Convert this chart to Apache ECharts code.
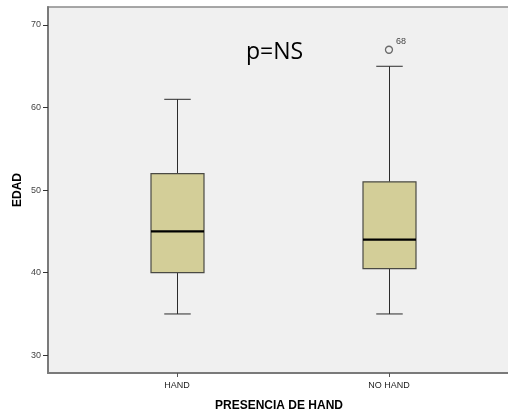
<!DOCTYPE html>
<html>
<head>
<meta charset="utf-8">
<script src="https://cdn.jsdelivr.net/npm/echarts@6/dist/echarts.min.js"></script>
<style>
  html, body { margin: 0; padding: 0; background: #ffffff; }
  #chart { width: 508px; height: 412px; }
</style>
</head>
<body>
<div id="chart"></div>
<script>
// Age (EDAD) by presence of HAND
const categories = ['HAND', 'NO HAND'];
const whiskerLow = [35, 35];
const quartile1 = [40, 40.5];
const medians = [45, 44];
const quartile3 = [52, 51];
const whiskerHigh = [61, 65];
// outliers: category index, value, case label
const outlierCategory = [1];
const outlierValue = [67];
const outlierCase = ['68'];
const yTicks = [30, 40, 50, 60, 70];

const boxData = categories.map((c, i) =>
  [i, whiskerLow[i], quartile1[i], medians[i], quartile3[i], whiskerHigh[i]]);
const outlierData = outlierValue.map((v, i) =>
  ({ value: [outlierCategory[i], v], caseLabel: outlierCase[i] }));

function renderBox(params, api) {
  const x = api.value(0);
  const pMin = api.coord([x, api.value(1)]);
  const pQ1 = api.coord([x, api.value(2)]);
  const pMed = api.coord([x, api.value(3)]);
  const pQ3 = api.coord([x, api.value(4)]);
  const pMax = api.coord([x, api.value(5)]);
  const unit = api.size([1, 0])[0];
  const bw = unit * 0.25;
  const cw = bw * 0.5;
  const cx = Math.round(pMed[0]) + 0.5;
  const lineStyle = { stroke: '#2b2b2b', lineWidth: 1 };
  return {
    type: 'group',
    children: [
      { type: 'line', shape: { x1: cx, y1: pMin[1], x2: cx, y2: pQ1[1] }, style: lineStyle },
      { type: 'line', shape: { x1: cx, y1: pQ3[1], x2: cx, y2: pMax[1] }, style: lineStyle },
      { type: 'line', shape: { x1: cx - cw / 2, y1: pMin[1], x2: cx + cw / 2, y2: pMin[1] }, style: lineStyle },
      { type: 'line', shape: { x1: cx - cw / 2, y1: pMax[1], x2: cx + cw / 2, y2: pMax[1] }, style: lineStyle },
      { type: 'rect', shape: { x: cx - bw / 2, y: pQ3[1], width: bw, height: pQ1[1] - pQ3[1] },
        style: { fill: '#d3ce98', stroke: '#4a4a44', lineWidth: 1.2 } },
      { type: 'line', shape: { x1: cx - bw / 2, y1: pMed[1], x2: cx + bw / 2, y2: pMed[1] },
        style: { stroke: '#000000', lineWidth: 2.2 } }
    ]
  };
}

const chart = echarts.init(document.getElementById('chart'), null, { renderer: 'canvas' });
chart.setOption({
  animation: false,
  backgroundColor: '#ffffff',
  title: {
    text: 'p=NS',
    left: 241,
    top: 36,
    textStyle: { fontFamily: 'Open Sans', fontWeight: 'normal', fontSize: 23, color: '#000000' }
  },
  grid: {
    left: 48, top: 7, right: -2, bottom: 39,
    containLabel: false,
    outerBoundsMode: 'none',
    show: true,
    backgroundColor: '#f0f0f0',
    borderColor: '#8a8a8a',
    borderWidth: 1.5
  },
  xAxis: {
    type: 'value',
    min: -0.6085,
    max: 1.571,
    name: 'PRESENCIA DE HAND',
    nameLocation: 'middle',
    nameGap: 27,
    nameTextStyle: { fontFamily: 'Liberation Sans', fontWeight: 'bold', fontSize: 12, color: '#000000' },
    axisLine: { show: true, onZero: false, lineStyle: { color: '#7a7a7a', width: 2 } },
    axisTick: { show: true, length: 4, customValues: [0, 1], lineStyle: { color: '#555555' } },
    axisLabel: {
      customValues: [0, 1],
      formatter: v => categories[Math.round(v)],
      fontFamily: 'Liberation Sans', fontSize: 9, color: '#222222', margin: 8
    },
    splitLine: { show: false }
  },
  yAxis: {
    type: 'value',
    min: 27.85,
    max: 72.18,
    name: 'EDAD',
    nameLocation: 'middle',
    nameGap: 24,
    nameMoveOverlap: false,
    nameTextStyle: { fontFamily: 'Liberation Sans', fontWeight: 'bold', fontSize: 12, color: '#000000' },
    axisLine: { show: true, onZero: false, lineStyle: { color: '#7a7a7a', width: 2 } },
    axisTick: { show: true, length: 5, customValues: yTicks, lineStyle: { color: '#333333' } },
    axisLabel: {
      customValues: yTicks,
      fontFamily: 'Liberation Sans', fontSize: 9, color: '#444444', margin: 7
    },
    splitLine: { show: false }
  },
  series: [
    {
      type: 'custom',
      renderItem: renderBox,
      encode: { x: 0, y: [1, 2, 3, 4, 5] },
      data: boxData,
      z: 2
    },
    {
      type: 'scatter',
      data: outlierData,
      symbol: 'circle',
      symbolSize: 7,
      itemStyle: { color: '#f0f0f0', borderColor: '#6a6a6a', borderWidth: 1.3, opacity: 1 },
      label: {
        show: true,
        formatter: p => p.data.caseLabel,
        position: 'right',
        offset: [-2, -8],
        fontFamily: 'Liberation Sans', fontSize: 9, color: '#444444'
      },
      z: 3
    }
  ]
});
</script>
</body>
</html>
